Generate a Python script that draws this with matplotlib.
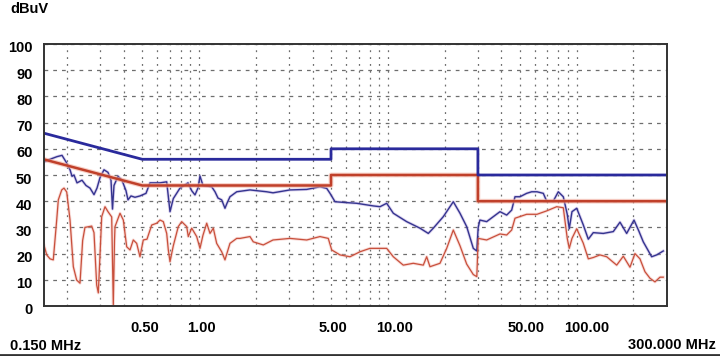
import matplotlib
matplotlib.use("Agg")
import matplotlib.pyplot as plt
import matplotlib.transforms as mtransforms

# ---------------- data ----------------
limit_freq = [0.15, 0.5, 5, 5, 30, 30, 300]
peak_limit = [66, 56, 56, 60, 60, 50, 50]
avg_limit = [56, 46, 46, 50, 50, 40, 40]

peak_freq = [0.151, 0.1624, 0.1768, 0.188, 0.1974, 0.2073, 0.2124, 0.2176, 0.2257, 0.2399,
             0.2519, 0.2645, 0.2777, 0.2881, 0.2988, 0.3137, 0.3294, 0.3417, 0.348, 0.3544,
             0.3722, 0.3907, 0.4103, 0.4204, 0.436, 0.4578, 0.4865, 0.5236, 0.5498, 0.6211,
             0.674, 0.7017, 0.7306, 0.7926, 0.874, 0.9144, 0.9517, 0.987, 1.0116, 1.049,
             1.167, 1.215, 1.26, 1.318, 1.372, 1.406, 1.458, 1.583, 1.861, 2.282,
             2.465, 3.031, 3.718, 4.371, 4.745, 4.94, 5.25, 5.93, 6.84, 8.375,
             9.087, 9.86, 10.69, 12.58, 14.8, 16.38, 17.41, 19.67, 22.22, 24.11,
             26.16, 28.36, 29.6, 30.1, 30.74, 33.38, 39.26, 42.61, 45.29, 47.16,
             50.11, 54.37, 57.8, 61.66, 66.6, 69.4, 75.2, 79.95, 85.0, 89.2,
             91.4, 94.5, 100.1, 108.4, 115.3, 122.5, 138.4, 156.4, 169.7, 184.1,
             201.3, 213.9, 225.4, 249.7, 265.5, 287.7]
peak_db = [55, 56, 57, 57.5, 55, 52, 49.5, 50, 47, 48,
           46, 45, 42.5, 45, 49, 52, 51, 48, 37, 46,
           49.5, 48, 44, 40.5, 42, 41.5, 42, 43, 47, 47,
           47.4, 36, 41, 45, 47, 44, 42.4, 45, 49.6, 46,
           45.5, 43.6, 41.2, 40.5, 37.3, 39.2, 41.7, 43.6, 44.3, 43.6,
           43.2, 44.3, 44.5, 45.5, 44.9, 43, 39.8, 39.5, 39.2, 38.2,
           37.9, 39.2, 35.4, 32.2, 29.7, 27.7, 29.7, 34.1, 39.8, 35.4,
           30.3, 22, 21, 30, 32.8, 32.2, 36, 34.7, 36.6, 41.7,
           41.7, 43, 43.6, 43.6, 43, 40, 40, 43.6, 41.7, 35,
           29.5, 36, 37.3, 31, 25.5, 28, 27.7, 28.4, 32, 27.7,
           32.8, 28.5, 24.5, 18.8, 19.5, 21]

avg_freq = [0.15, 0.156, 0.1624, 0.169, 0.1762, 0.1797, 0.1873, 0.1926, 0.1991, 0.2073,
            0.2158, 0.2248, 0.2341, 0.2418, 0.2487, 0.27, 0.2777, 0.287, 0.2927, 0.3051,
            0.3176, 0.3294, 0.3446, 0.3514, 0.3566, 0.3588, 0.3814, 0.3971, 0.4138, 0.4308,
            0.4484, 0.4674, 0.4865, 0.5066, 0.53, 0.5613, 0.5968, 0.6211, 0.6466, 0.674,
            0.6874, 0.7017, 0.7306, 0.7763, 0.8093, 0.8603, 0.877, 0.9144, 0.9716, 1.0116,
            1.049, 1.098, 1.143, 1.19, 1.24, 1.318, 1.372, 1.458, 1.583, 1.648,
            1.861, 1.937, 2.189, 2.465, 3.031, 3.718, 4.371, 4.837, 5.042, 5.579,
            6.303, 7.12, 8.04, 9.087, 9.86, 10.69, 12.07, 13.64, 15.41, 16.06,
            16.72, 18.89, 20.5, 22.22, 24.11, 26.16, 28.36, 29.6, 30.1, 33.38,
            39.26, 42.61, 45.29, 47.16, 54.37, 61.66, 69.4, 78.4, 85.0, 89.2,
            91.4, 94.5, 100.1, 108.4, 115.3, 122.5, 132.9, 144.3, 163.0, 176.7,
            191.7, 203.7, 216.5, 230.1, 244.6, 260.0, 276.4, 287.7]
avg_db = [23.9, 19.5, 18, 17.6, 32.8, 40.5, 44.3, 45, 43.5, 32.8,
          15, 9.9, 8.7, 25, 30, 30.5, 28, 8, 5, 34.1,
          37.9, 36, 34, 0.5, 25, 30.3, 35.4, 32.8, 22.6, 21.4,
          25.2, 23.9, 18.8, 25.2, 25.5, 30.9, 31.6, 32.8, 32.2, 27.7,
          21.4, 16.9, 23, 30.3, 32.2, 30.3, 26.5, 29.7, 26.5, 22,
          27, 31.6, 27.7, 29.7, 23.9, 20.7, 17.6, 23.9, 25.8, 25.8,
          26.5, 24.5, 23.3, 25.2, 25.8, 25.2, 26.5, 25.8, 21.4, 19.5,
          18.8, 20.7, 22, 22, 22, 18.8, 15.6, 16.3, 15.6, 18.8,
          15, 16.3, 22, 29, 23, 16, 12, 11.2, 25.8, 25.2,
          27.5, 27.1, 29, 33.5, 35, 35, 36.3, 37.9, 37.5, 25.8,
          22, 25.8, 29.5, 24, 18, 18.5, 19.5, 18.8, 15.6, 19,
          14.8, 20, 18, 13.1, 10.6, 9.2, 11, 11]

y_ticks = [0, 10, 20, 30, 40, 50, 60, 70, 80, 90, 100]
x_ticks = [0.5, 1, 5, 10, 50, 100]
x_tick_labels = ["0.50", "1.00", "5.00", "10.00", "50.00", "100.00"]
grid_freqs = [0.2, 0.3, 0.4, 0.6, 0.7, 0.8, 0.9,
              2, 3, 4, 6, 7, 8, 9,
              20, 30, 40, 60, 70, 80, 90, 200]

# ---------------- figure ----------------
plt.rcParams['font.family'] = ['Liberation Sans', 'DejaVu Sans']
fig = plt.figure(figsize=(7.2, 3.56), dpi=100)
ax = fig.add_axes([43.5 / 720, 1 - 306 / 356, (666.7 - 43.5) / 720, (306 - 44) / 356])

ax.set_xscale('log')
ax.set_xlim(0.15, 300)
ax.set_ylim(0, 100)

# ticks & grid
ax.set_xticks(x_ticks)
ax.set_xticklabels(x_tick_labels)
ax.set_xticks(grid_freqs, minor=True)
ax.set_yticks(y_ticks)
vgrid = dict(color='#6e6e6e', linestyle=(0, (1.5, 4)), linewidth=0.9)
hgrid = dict(color='#6e6e6e', linestyle=(0, (3, 4)), linewidth=0.9)
ax.grid(True, which='both', axis='x', **vgrid)
ax.grid(True, which='major', axis='y', **hgrid)
ax.tick_params(which='both', length=0)
ax.tick_params(axis='x', which='minor', labelbottom=False)
ax.set_axisbelow(True)

# measured curves
ax.plot(peak_freq, peak_db, color='#9a7fd0', linewidth=2.2, alpha=0.35, zorder=2)
ax.plot(peak_freq, peak_db, color='#34348f', linewidth=1.0, zorder=3)
ax.plot(avg_freq, avg_db, color='#f0a8a0', linewidth=2.2, alpha=0.4, zorder=2)
ax.plot(avg_freq, avg_db, color='#c8503c', linewidth=0.9, zorder=3)

# limit lines
ax.plot(limit_freq, avg_limit, color='#f2b0a0', linewidth=3.4, alpha=0.6, zorder=4)
ax.plot(limit_freq, avg_limit, color='#c0402a', linewidth=1.8, zorder=5)
ax.plot(limit_freq, peak_limit, color='#2a2a9c', linewidth=2.0, zorder=5)

for s in ax.spines.values():
    s.set_color('#333333')
    s.set_linewidth(1.4)
    s.set_zorder(6)

# tick labels
ax.tick_params(axis='y', which='major', pad=8, labelsize=10.5)
ax.tick_params(axis='x', which='major', pad=11, labelsize=10.5)
off_y = mtransforms.ScaledTranslation(0, -3 / 100, fig.dpi_scale_trans)
for lbl in ax.get_yticklabels():
    lbl.set_fontweight('bold')
    lbl.set_transform(lbl.get_transform() + off_y)
off_x = mtransforms.ScaledTranslation(-12 / 100, 0, fig.dpi_scale_trans)
for lbl in ax.get_xticklabels():
    lbl.set_fontweight('bold')
    lbl.set_horizontalalignment('left')
    lbl.set_transform(lbl.get_transform() + off_x)

fig.text(10 / 720, 1 - 9 / 356, "dBuV", fontsize=10.5, fontweight='bold', va='center', ha='left')
fig.text(10 / 720, 1 - 346 / 356, "0.150 MHz", fontsize=10.5, fontweight='bold', va='center', ha='left')
fig.text(716 / 720, 1 - 345 / 356, "300.000 MHz", fontsize=10.5, fontweight='bold', va='center', ha='right')

# bottom border line of the screenshot
fig.add_artist(plt.Line2D([0, 1], [1.5 / 356, 1.5 / 356], transform=fig.transFigure, color='#333333', linewidth=2))

fig.savefig("out.png", dpi=100)
